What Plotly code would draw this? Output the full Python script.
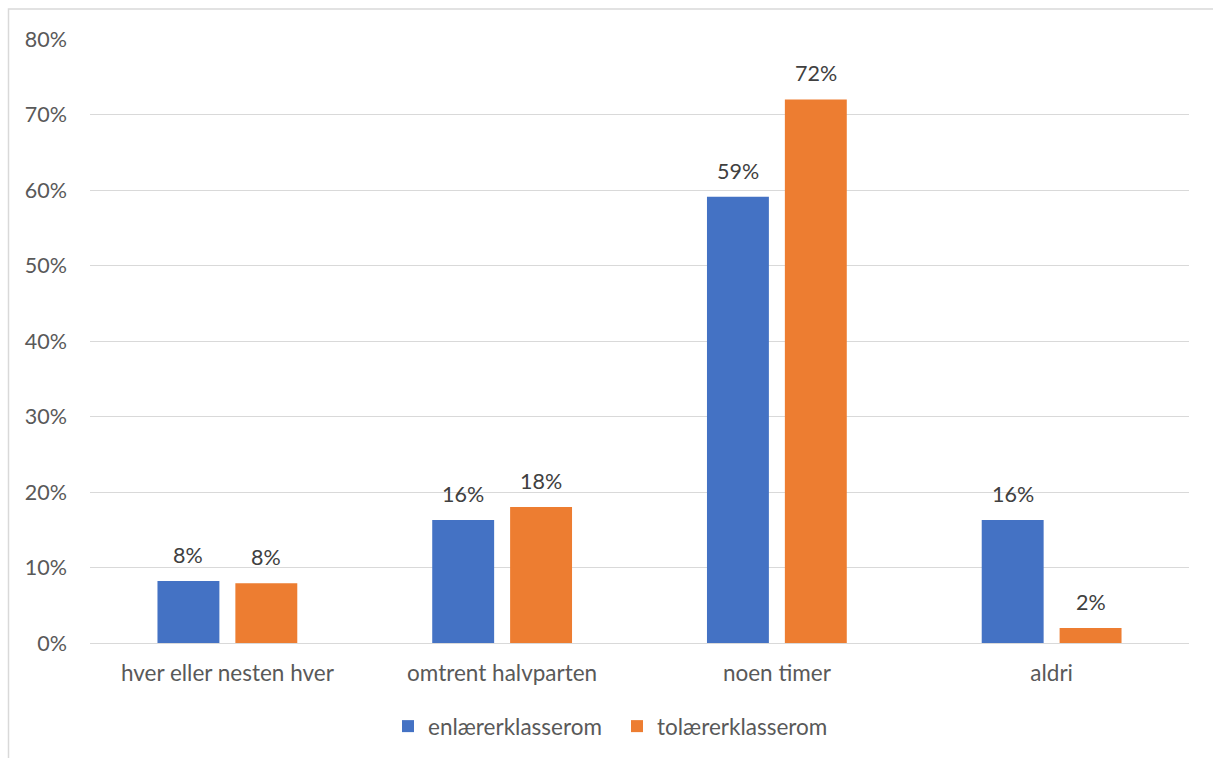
import plotly.graph_objects as go

categories = ["hver eller nesten hver", "omtrent halvparten", "noen timer", "aldri"]
enlaerer = [0.082, 0.163, 0.591, 0.163]
tolaerer = [0.079, 0.180, 0.720, 0.020]
series_names = ["enlærerklasserom", "tolærerklasserom"]
colors = ["#4472C4", "#ED7D31"]

W, H = 1213, 758
margin = dict(l=90, r=24, t=39, b=115)
BARGAP, GROUPGAP = 0.433, 0.205

fig = go.Figure()
for name, vals, col in zip(series_names, [enlaerer, tolaerer], colors):
    fig.add_trace(go.Bar(
        x=categories, y=vals, name=name,
        marker=dict(color=col, line=dict(width=0)),
        cliponaxis=False,
    ))

pw = W - margin["l"] - margin["r"]
ph = H - margin["t"] - margin["b"]

def px_x(px):
    return (px - margin["l"]) / pw

def px_y(py):
    return (H - margin["b"] - py) / ph

# value labels above each bar, shifted to the centre of its slot in the group
slot = pw / len(categories) * (1 - BARGAP) / 2
for i, vals in enumerate([enlaerer, tolaerer]):
    for cat, v in zip(categories, vals):
        fig.add_annotation(x=cat, y=v, xref="x", yref="y", text=f"{v:.0%}",
                           showarrow=False, xshift=(i - 0.5) * slot,
                           yanchor="middle", yshift=26,
                           font=dict(family="Lato", size=21.5, color="#404040"))

# outer chart frame
fig.add_shape(type="rect", xref="paper", yref="paper",
              x0=px_x(8.5), x1=px_x(1220), y0=px_y(9), y1=px_y(770),
              line=dict(color="#D9D9D9", width=1.5), fillcolor="rgba(0,0,0,0)",
              layer="below")

fig.update_layout(
    width=W, height=H, margin=margin,
    paper_bgcolor="white", plot_bgcolor="white",
    barmode="group", bargap=BARGAP, bargroupgap=GROUPGAP,
    font=dict(family="Lato", color="#595959", size=22),
    showlegend=True,
    legend=dict(orientation="h", xref="container", yref="container",
                x=388 / W, xanchor="left", y=1 - 705 / H, yanchor="top",
                font=dict(size=22.5, color="#595959"), itemwidth=30,
                traceorder="normal", entrywidthmode="pixels", entrywidth=184),
    xaxis=dict(showgrid=False, showline=False, ticks="", ticklabelstandoff=14,
               tickfont=dict(size=22.5, color="#595959")),
    yaxis=dict(range=[0, 0.8], dtick=0.1, tickformat=".0%", showgrid=True,
               gridcolor="#D9D9D9", gridwidth=1.3, zeroline=True, zerolinecolor="#D9D9D9",
               zerolinewidth=1.3, showline=False, ticks="", ticklabelstandoff=22,
               tickfont=dict(size=21.5, color="#595959")),
)

fig.write_html("out.html")
